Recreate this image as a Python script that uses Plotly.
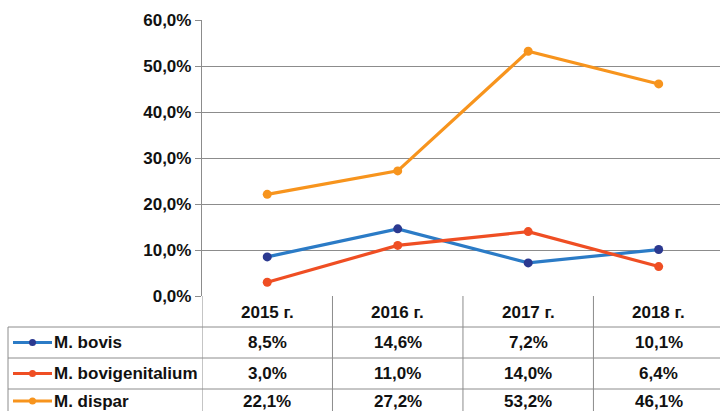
import plotly.graph_objects as go

years = ["2015 г.", "2016 г.", "2017 г.", "2018 г."]
series_names = ["M. bovis", "M. bovigenitalium", "M. dispar"]
bovis = [8.5, 14.6, 7.2, 10.1]
bovigenitalium = [3.0, 11.0, 14.0, 6.4]
dispar = [22.1, 27.2, 53.2, 46.1]
y_ticks = [0, 10, 20, 30, 40, 50, 60]

line_colors = ["#2B7BC6", "#EF4E23", "#F7941D"]
marker_colors = ["#2B3990", "#EF4E23", "#F7941D"]
values = [bovis, bovigenitalium, dispar]

FONT = "Liberation Sans, Arial, sans-serif"
GRID = "#8C8C8C"

fig = go.Figure()
for name, vals, lc, mc in zip(series_names, values, line_colors, marker_colors):
    fig.add_trace(go.Scatter(
        x=list(range(len(years))), y=[v / 100 for v in vals], name=name,
        mode="lines+markers", line=dict(color=lc, width=3.2),
        marker=dict(color=mc, size=9), cliponaxis=False, showlegend=False,
    ))

W, H = 720, 411
L, T, B = 202, 20, 115
pw, ph = W - L, H - T - B

def px2paper_x(px):
    return (px - L) / pw

def py2paper_y(py):
    return (H - B - py) / ph

shapes = []
annotations = []
line_style = dict(color=GRID, width=1)

# horizontal table lines
for py in [327, 358, 389]:
    shapes.append(dict(type="line", xref="paper", yref="paper",
                       x0=px2paper_x(8), x1=1.02, y0=py2paper_y(py), y1=py2paper_y(py), line=line_style))
# left border of table
shapes.append(dict(type="line", xref="paper", yref="paper",
                   x0=px2paper_x(8), x1=px2paper_x(8), y0=py2paper_y(327), y1=py2paper_y(412), line=line_style))
# column borders (category boundaries)
for i in range(len(years) + 1):
    shapes.append(dict(type="line", xref="x", yref="paper",
                       x0=i - 0.5, x1=i - 0.5, y0=0, y1=py2paper_y(412), line=line_style))

FS = 17
bold = dict(family=FONT, size=FS, color="#111111", weight="bold")

# header
for i, yr in enumerate(years):
    annotations.append(dict(xref="x", yref="paper", x=i, y=py2paper_y(312),
                            text=yr, showarrow=False, font=bold, xanchor="center", yanchor="middle"))

row_centers = [342.5, 373.5, 401]
for r, (name, vals, lc, mc) in enumerate(zip(series_names, values, line_colors, marker_colors)):
    yc = py2paper_y(row_centers[r])
    shapes.append(dict(type="line", xref="paper", yref="paper",
                       x0=px2paper_x(13), x1=px2paper_x(52), y0=yc, y1=yc,
                       line=dict(color=lc, width=3.2)))
    shapes.append(dict(type="circle", xref="paper", yref="paper",
                       x0=px2paper_x(29), x1=px2paper_x(36),
                       y0=yc - 3.5 / ph, y1=yc + 3.5 / ph,
                       fillcolor=mc, line=dict(color=mc, width=0)))
    annotations.append(dict(xref="paper", yref="paper", x=px2paper_x(52), y=yc,
                            text=name, showarrow=False, font=bold, xanchor="left", yanchor="middle"))
    for i, v in enumerate(vals):
        annotations.append(dict(xref="x", yref="paper", x=i, y=yc,
                                text=f"{v:.1f}%".replace(".", ","), showarrow=False, font=bold,
                                xanchor="center", yanchor="middle"))

fig.update_layout(
    width=W, height=H, margin=dict(l=L, r=0, t=T, b=B),
    paper_bgcolor="white", plot_bgcolor="white",
    separators=", ",
    shapes=shapes, annotations=annotations,
    xaxis=dict(range=[-0.5, 3.47], showticklabels=False, showgrid=False, zeroline=False,
               showline=False, ticks=""),
    yaxis=dict(range=[0, 0.6], tickvals=[t / 100 for t in y_ticks], tickformat=".1%",
               ticksuffix="\u00a0",
               showgrid=True, gridcolor=GRID, gridwidth=1.3, zeroline=False,
               showline=True, linecolor=GRID, linewidth=1.3,
               ticks="outside", ticklen=6, tickcolor=GRID, tickwidth=1.3,
               tickfont=dict(family=FONT, size=FS, color="#111111", weight="bold")),
)

fig.write_html("out.html", config={"displayModeBar": False},
               post_script="document.body.style.margin='0';document.body.style.overflow='hidden';")
